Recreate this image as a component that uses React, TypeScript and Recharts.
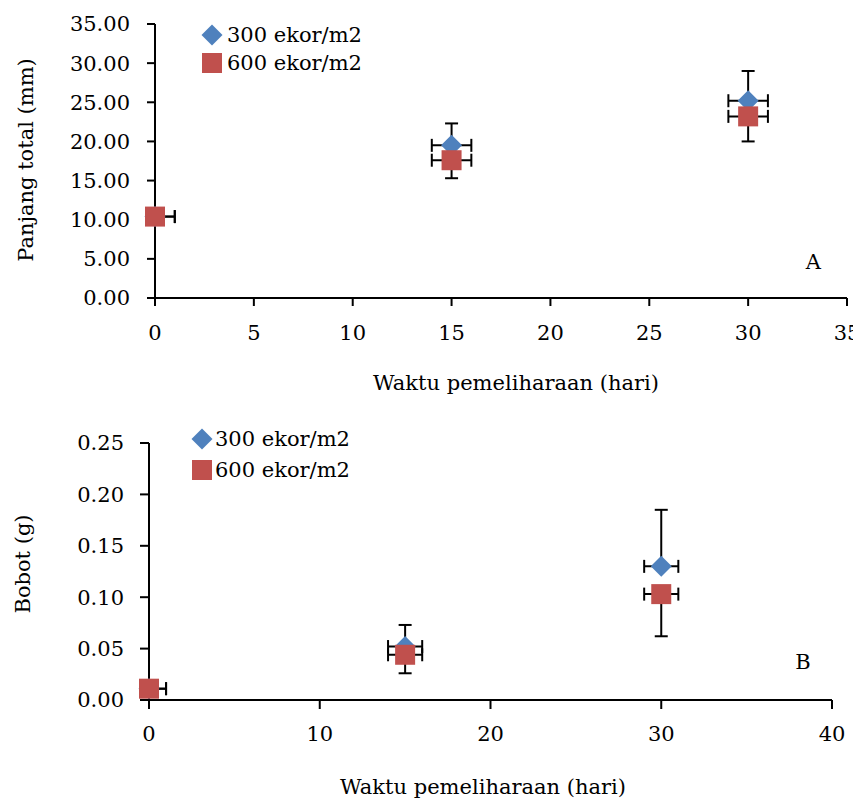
import { ScatterChart, Scatter, XAxis, YAxis, ErrorBar, Legend, ReferenceDot, Label } from 'recharts';

const BLUE = '#4F81BD';
const RED = '#C0504D';
const FONT = '"DejaVu Serif", serif';

const seriesNames = ['300 ekor/m2', '600 ekor/m2'];
const days = [0, 15, 30];
const dayErr: (number | number[])[] = [[0, 1], 1, 1];

// A: panjang total (mm); 300 shows the plus bar, 600 the minus bar
const panjang300 = [10.4, 19.5, 25.2];
const panjang300Plus = [0, 2.8, 3.8];
const panjang600 = [10.4, 17.6, 23.2];
const panjang600Minus = [0, 2.3, 3.2];
const panjangTicks = [0, 5, 10, 15, 20, 25, 30, 35];
const hariTicksA = [0, 5, 10, 15, 20, 25, 30, 35];

// B: bobot (g)
const bobot300 = [0.011, 0.052, 0.13];
const bobot300Plus = [0, 0.021, 0.055];
const bobot600 = [0.011, 0.044, 0.103];
const bobot600Minus = [0, 0.018, 0.041];
const bobotTicks = [0, 0.05, 0.1, 0.15, 0.2, 0.25];
const hariTicksB = [0, 10, 20, 30, 40];

const plusRows = (vals: number[], errs: number[]) =>
  days.map((d, i) => ({ x: d, y: vals[i], xErr: dayErr[i], yErr: [0, errs[i]] }));
const minusRows = (vals: number[], errs: number[]) =>
  days.map((d, i) => ({ x: d, y: vals[i], xErr: dayErr[i], yErr: [errs[i], 0] }));

const Diamond = (props: any) => {
  const { cx, cy } = props;
  const r = 10.5;
  return <path d={`M${cx},${cy - r}L${cx + r},${cy}L${cx},${cy + r}L${cx - r},${cy}Z`} fill={BLUE} />;
};

const Square = (props: any) => {
  const { cx, cy } = props;
  return <rect x={cx - 10} y={cy - 10} width={20} height={20} fill={RED} />;
};

const Empty = () => <g />;

const LegendBox = ({ rowHeight, gap }: { rowHeight: number; gap: number }) => (
  <div style={{ fontFamily: FONT, fontSize: 21, color: '#000' }}>
    {seriesNames.map((name, i) => (
      <div key={name} style={{ display: 'flex', alignItems: 'center', height: rowHeight, whiteSpace: 'nowrap' }}>
        <svg width={22} height={22} style={{ marginRight: gap }}>
          {i === 0 ? <Diamond cx={11} cy={11} /> : <Square cx={11} cy={11} />}
        </svg>
        <span>{name}</span>
      </div>
    ))}
  </div>
);

interface PanelProps {
  s1: any[];
  s2: any[];
  xMax: number;
  xTicks: number[];
  yMax: number;
  yTicks: number[];
  yTitle: string;
  yTitlePos: [number, number];
  xTitlePos: [number, number];
  margin: any;
  yAxisWidth: number;
  xAxisHeight: number;
  tickSize: number;
  xTickMargin: number;
  yTickMargin: number;
  legendPos: { left: number; top: number; rowHeight: number; gap: number };
  tag: string;
  tagAt: [number, number];
}

function Panel(p: PanelProps) {
  const tick = { fill: '#000', fontSize: 21, fontFamily: FONT };
  const axisLine = { stroke: '#000', strokeWidth: 2 };
  const bars = (
    <>
      <ErrorBar dataKey="yErr" direction="y" width={6.5} stroke="#000" strokeWidth={2} />
      <ErrorBar dataKey="xErr" direction="x" width={6.5} stroke="#000" strokeWidth={2} />
    </>
  );
  return (
    <ScatterChart width={853} height={393} margin={p.margin} style={{ fontFamily: FONT }}>
      <XAxis
        type="number"
        dataKey="x"
        domain={[0, p.xMax]}
        ticks={p.xTicks}
        interval={0}
        height={p.xAxisHeight}
        tick={tick}
        axisLine={axisLine}
        tickLine={axisLine}
        tickSize={p.tickSize}
        tickMargin={p.xTickMargin}
        label={
          <Label
            content={() => (
              <text x={p.xTitlePos[0]} y={p.xTitlePos[1]} textAnchor="middle" dominantBaseline="central" fontSize={21} fontFamily={FONT} fill="#000">
                Waktu pemeliharaan (hari)
              </text>
            )}
          />
        }
      />
      <YAxis
        type="number"
        dataKey="y"
        domain={[0, p.yMax]}
        ticks={p.yTicks}
        interval={0}
        width={p.yAxisWidth}
        tick={tick}
        axisLine={axisLine}
        tickLine={axisLine}
        tickSize={p.tickSize}
        tickMargin={p.yTickMargin}
        tickFormatter={(v: number) => v.toFixed(2)}
        label={
          <Label
            content={() => (
              <text
                x={p.yTitlePos[0]}
                y={p.yTitlePos[1]}
                transform={`rotate(-90 ${p.yTitlePos[0]} ${p.yTitlePos[1]})`}
                textAnchor="middle"
                dominantBaseline="central"
                fontSize={21}
                fontFamily={FONT}
                fill="#000"
              >
                {p.yTitle}
              </text>
            )}
          />
        }
      />
      <Legend
        layout="vertical"
        align="center"
        verticalAlign="middle"
        wrapperStyle={{ left: p.legendPos.left, top: p.legendPos.top, width: 'auto' }}
        content={() => <LegendBox rowHeight={p.legendPos.rowHeight} gap={p.legendPos.gap} />}
      />
      <Scatter data={p.s1} shape={Empty} legendType="none" isAnimationActive={false}>{bars}</Scatter>
      <Scatter data={p.s2} shape={Empty} legendType="none" isAnimationActive={false}>{bars}</Scatter>
      <Scatter name={seriesNames[0]} data={p.s1} fill={BLUE} shape={Diamond} isAnimationActive={false} />
      <Scatter name={seriesNames[1]} data={p.s2} fill={RED} shape={Square} isAnimationActive={false} />
      <ReferenceDot
        x={p.tagAt[0]}
        y={p.tagAt[1]}
        r={0}
        fill="none"
        stroke="none"
        label={{ value: p.tag, position: 'center', fontSize: 21, fontFamily: FONT, fill: '#000' }}
      />
    </ScatterChart>
  );
}

export default function App() {
  return (
    <div style={{ fontFamily: FONT, width: 853, paddingBottom: 6 }}>
      <style>{'#root { width: 853px; } .recharts-surface, .recharts-wrapper { overflow: visible !important; }'}</style>
      <Panel
        s1={plusRows(panjang300, panjang300Plus)}
        s2={minusRows(panjang600, panjang600Minus)}
        xMax={35}
        xTicks={hariTicksA}
        yMax={35}
        yTicks={panjangTicks}
        yTitle="Panjang total (mm)"
        yTitlePos={[18, 152]}
        xTitlePos={[508, 375]}
        margin={{ top: 16, right: 14, left: 0, bottom: 0 }}
        yAxisWidth={147}
        xAxisHeight={103}
        tickSize={8}
        xTickMargin={19}
        yTickMargin={17}
        legendPos={{ left: 193, top: 13, rowHeight: 28, gap: 4 }}
        tag="A"
        tagAt={[33.3, 4.6]}
      />
      <Panel
        s1={plusRows(bobot300, bobot300Plus)}
        s2={minusRows(bobot600, bobot600Minus)}
        xMax={40}
        xTicks={hariTicksB}
        yMax={0.25}
        yTicks={bobotTicks}
        yTitle="Bobot (g)"
        yTitlePos={[15, 163]}
        xTitlePos={[475, 386]}
        margin={{ top: 42, right: 29, left: 0, bottom: 0 }}
        yAxisWidth={141}
        xAxisHeight={94}
        tickSize={9}
        xTickMargin={17}
        yTickMargin={16}
        legendPos={{ left: 183, top: 22.5, rowHeight: 31, gap: 2 }}
        tag="B"
        tagAt={[38.3, 0.037]}
      />
    </div>
  );
}
